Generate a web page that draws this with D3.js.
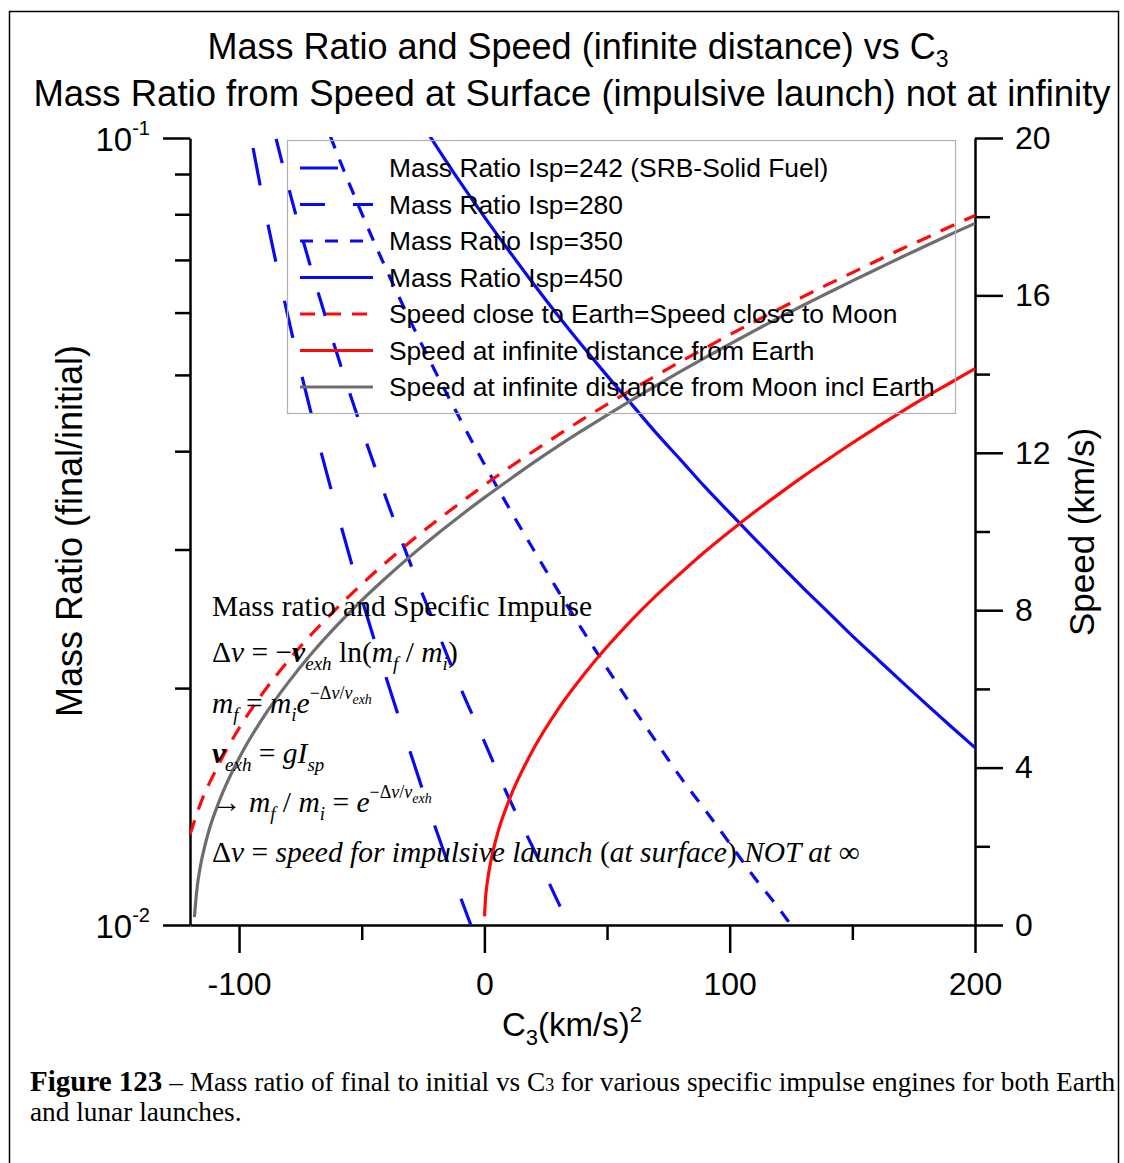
<!DOCTYPE html>
<html>
<head>
<meta charset="utf-8">
<script src="https://cdn.jsdelivr.net/npm/d3@7"></script>
<style>
  html, body { margin: 0; padding: 0; background: #fff; }
  svg { display: block; }
</style>
</head>
<body>
<svg id="chart" width="1124" height="1163"></svg>
<script>
// ---------------- DATA ----------------
const xMajorTicks = [-100, 0, 100, 200];
const xMinorTicks = [-50, 50, 150];
const speedMajorTicks = [0, 4, 8, 12, 16, 20];
const speedMinorTicks = [2, 6, 10, 14, 18];
const ratioMajorTicks = [0.01, 0.1];
const ratioMajorLabels = ["-2", "-1"];
const ratioMinorTicks = [0.02, 0.03, 0.04, 0.05, 0.06, 0.07, 0.08, 0.09];

// Mass ratio curves (left log axis)
const c3Isp242 = [-100, -90, -80, -70, -60, -50, -40, -30, -20, -10, 0];
const ratioIsp242 = [0.1216, 0.0827, 0.0592, 0.0439, 0.0335, 0.0260, 0.0206, 0.0165, 0.0133, 0.0109, 0.0090];

const c3Isp280 = [-90, -80, -70, -60, -50, -40, -30, -20, -10, 0, 10, 20, 30, 40];
const ratioIsp280 = [0.1160, 0.0869, 0.0672, 0.0531, 0.0427, 0.0348, 0.0287, 0.0240, 0.0201, 0.0171, 0.0145, 0.0125, 0.0107, 0.0093];

const c3Isp350 = [-70, -60, -50, -40, -30, -20, -10, 0, 10, 20, 30, 40, 50, 60, 70, 80, 90, 100, 110, 120, 130];
const ratioIsp350 = [0.1153, 0.0955, 0.0802, 0.0681, 0.0584, 0.0505, 0.0440, 0.0385, 0.0339, 0.0300, 0.0266, 0.0237, 0.0212, 0.0190, 0.0171, 0.0154, 0.0140, 0.0127, 0.0115, 0.0105, 0.0095];

const c3Isp450 = [-30, -20, -10, 0, 10, 20, 30, 40, 50, 60, 70, 80, 90, 100, 110, 120, 130, 140, 150, 160, 170, 180, 190, 200];
const ratioIsp450 = [0.1098, 0.0981, 0.0880, 0.0794, 0.0719, 0.0653, 0.0595, 0.0544, 0.0499, 0.0459, 0.0422, 0.0390, 0.0360, 0.0334, 0.0310, 0.0288, 0.0268, 0.0250, 0.0233, 0.0218, 0.0204, 0.0191, 0.0179, 0.0168];

// Speed curves (right linear axis, km/s)
const c3Close = [-120, -115, -110, -100, -90, -80, -70, -60, -50, -40, -30, -20, -10, 0, 10, 20, 30, 40, 50, 60, 70, 80, 90, 100, 110, 120, 130, 140, 150, 160, 170, 180, 190, 200];
const speedClose = [2.3, 3.2, 3.87, 5.00, 5.92, 6.71, 7.42, 8.06, 8.66, 9.22, 9.75, 10.25, 10.72, 11.18, 11.62, 12.04, 12.45, 12.85, 13.23, 13.60, 13.96, 14.32, 14.66, 15.00, 15.33, 15.65, 15.97, 16.28, 16.58, 16.88, 17.18, 17.46, 17.75, 18.03];

const c3InfEarth = [0.05, 0.5, 1, 2, 5, 10, 20, 30, 40, 50, 60, 70, 80, 90, 100, 110, 120, 130, 140, 150, 160, 170, 180, 190, 200];
const speedInfEarth = [0.22, 0.71, 1.00, 1.41, 2.24, 3.16, 4.47, 5.48, 6.32, 7.07, 7.75, 8.37, 8.94, 9.49, 10.00, 10.49, 10.95, 11.40, 11.83, 12.25, 12.65, 13.04, 13.42, 13.78, 14.14];

const c3InfMoon = [-118.2, -117.5, -117, -116, -113, -108, -100, -90, -80, -70, -60, -50, -40, -30, -20, -10, 0, 10, 20, 30, 40, 50, 60, 70, 80, 90, 100, 110, 120, 130, 140, 150, 160, 170, 180, 190, 200];
const speedInfMoon = [0.2, 0.71, 1.00, 1.41, 2.24, 3.16, 4.24, 5.29, 6.16, 6.93, 7.62, 8.25, 8.83, 9.38, 9.90, 10.39, 10.86, 11.31, 11.75, 12.17, 12.57, 12.96, 13.34, 13.71, 14.07, 14.42, 14.76, 15.10, 15.43, 15.75, 16.06, 16.37, 16.67, 16.97, 17.26, 17.55, 17.83];

const legendLabels = [
  "Mass Ratio Isp=242 (SRB-Solid Fuel)",
  "Mass Ratio Isp=280",
  "Mass Ratio Isp=350",
  "Mass Ratio Isp=450",
  "Speed close to Earth=Speed close to Moon",
  "Speed at infinite distance from Earth",
  "Speed at infinite distance from Moon incl Earth"
];

// ---------------- LAYOUT ----------------
const svg = d3.select("#chart");
const SANS = "'Liberation Sans', Arial, Helvetica, sans-serif";
const SERIF = "'Liberation Serif', 'Times New Roman', serif";
const L = 190, R = 975, T = 138, B = 925;
const BLUE = "#0a0af0", RED = "#ff0a0a", GRAY = "#6e6e6e";

const x = d3.scaleLinear().domain([-120, 200]).range([L, R]);
const ySpeed = d3.scaleLinear().domain([0, 20]).range([B, T]);
const yRatio = d3.scaleLog().domain([0.01, 0.1]).range([B, T]);

// outer frame
svg.append("rect").attr("x", 9.5).attr("y", 11.5).attr("width", 1109).attr("height", 1200)
  .attr("fill", "none").attr("stroke", "#000").attr("stroke-width", 1.5);

// helper for rich text with sub/superscripts
function richText(g, xPos, yPos, runs, opts) {
  const t = g.append("text").attr("x", xPos).attr("y", yPos)
    .attr("font-family", opts.family).attr("font-size", opts.size)
    .attr("text-anchor", opts.anchor || "start").attr("fill", "#000");
  let prev = 0;
  runs.forEach(r => {
    const shift = r.shift || 0;
    const ts = t.append("tspan").text(r.t).attr("dy", shift - prev);
    if (r.size) ts.attr("font-size", r.size);
    if (r.italic) ts.attr("font-style", "italic");
    if (r.bold) ts.attr("font-weight", "bold");
    prev = shift;
  });
  return t;
}

// ---------------- TITLE ----------------
richText(svg, 578, 59, [
  { t: "Mass Ratio and Speed (infinite distance) vs C" },
  { t: "3", shift: 8, size: 23 }
], { family: SANS, size: 36, anchor: "middle" });
richText(svg, 572, 106, [
  { t: "Mass Ratio from Speed at Surface (impulsive launch) not at infinity" }
], { family: SANS, size: 36.5, anchor: "middle" });

// ---------------- AXES ----------------
function styleAxis(g) {
  g.selectAll("path, line").attr("stroke", "#000").attr("stroke-width", 2.5);
  g.selectAll("text").attr("font-family", SANS).attr("fill", "#000");
}

// bottom
const gxMaj = svg.append("g").attr("transform", `translate(0,${B})`)
  .call(d3.axisBottom(x).tickValues(xMajorTicks).tickSize(28).tickSizeOuter(0).tickPadding(19)
    .tickFormat(d => String(d)));
gxMaj.selectAll("text").attr("font-size", 32);
styleAxis(gxMaj);
const gxMin = svg.append("g").attr("transform", `translate(0,${B})`)
  .call(d3.axisBottom(x).tickValues(xMinorTicks).tickSize(15).tickSizeOuter(0).tickFormat(""));
gxMin.select(".domain").remove();
styleAxis(gxMin);

// left (log)
const gyL = svg.append("g").attr("transform", `translate(${L},0)`)
  .call(d3.axisLeft(yRatio).tickValues(ratioMajorTicks).tickSize(27).tickSizeOuter(0).tickFormat(""));
styleAxis(gyL);
const gyLm = svg.append("g").attr("transform", `translate(${L},0)`)
  .call(d3.axisLeft(yRatio).tickValues(ratioMinorTicks).tickSize(15).tickSizeOuter(0).tickFormat(""));
gyLm.select(".domain").remove();
styleAxis(gyLm);
ratioMajorTicks.forEach((v, i) => {
  richText(svg, 150, yRatio(v) + 13, [
    { t: "10" }, { t: ratioMajorLabels[i], shift: -16, size: 20 }
  ], { family: SANS, size: 33, anchor: "end" });
});

// right (speed)
const gyR = svg.append("g").attr("transform", `translate(${R},0)`)
  .call(d3.axisRight(ySpeed).tickValues(speedMajorTicks).tickSize(28).tickSizeOuter(0).tickPadding(12));
gyR.selectAll("text").attr("font-size", 32);
styleAxis(gyR);
const gyRm = svg.append("g").attr("transform", `translate(${R},0)`)
  .call(d3.axisRight(ySpeed).tickValues(speedMinorTicks).tickSize(15).tickSizeOuter(0).tickFormat(""));
gyRm.select(".domain").remove();
styleAxis(gyRm);

// axis titles
svg.append("text").attr("transform", "translate(82,531) rotate(-90)")
  .attr("text-anchor", "middle").attr("font-family", SANS).attr("font-size", 36)
  .text("Mass Ratio (final/initial)");
svg.append("text").attr("transform", "translate(1094,532) rotate(-90)")
  .attr("text-anchor", "middle").attr("font-family", SANS).attr("font-size", 35)
  .text("Speed (km/s)");
richText(svg, 572, 1036, [
  { t: "C" }, { t: "3", shift: 9, size: 22 }, { t: "(km/s)" }, { t: "2", shift: -14, size: 22 }
], { family: SANS, size: 33, anchor: "middle" });

// ---------------- DATA LINES ----------------
svg.append("clipPath").attr("id", "plotclip").append("rect")
  .attr("x", L).attr("y", T - 1).attr("width", R - L + 1).attr("height", B - T + 1);
const plot = svg.append("g").attr("clip-path", "url(#plotclip)");

const ratioLine = d3.line().x(d => x(d[0])).y(d => yRatio(d[1])).curve(d3.curveMonotoneX);
const speedLine = d3.line().x(d => x(d[0])).y(d => ySpeed(d[1])).curve(d3.curveMonotoneX);
const zip = (a, b) => a.map((v, i) => [v, b[i]]);

const series = [
  { data: zip(c3Isp242, ratioIsp242), gen: ratioLine, color: BLUE, dash: "38,40" },
  { data: zip(c3Isp280, ratioIsp280), gen: ratioLine, color: BLUE, dash: "25,28" },
  { data: zip(c3Isp350, ratioIsp350), gen: ratioLine, color: BLUE, dash: "13,12" },
  { data: zip(c3Isp450, ratioIsp450), gen: ratioLine, color: BLUE, dash: null },
  { data: zip(c3Close, speedClose), gen: speedLine, color: RED, dash: "15,11" },
  { data: zip(c3InfEarth, speedInfEarth), gen: speedLine, color: RED, dash: null },
  { data: zip(c3InfMoon, speedInfMoon), gen: speedLine, color: GRAY, dash: null }
];
series.forEach(s => {
  plot.append("path").attr("d", s.gen(s.data)).attr("fill", "none")
    .attr("stroke", s.color).attr("stroke-width", 3.2)
    .attr("stroke-dasharray", s.dash);
});

// ---------------- LEGEND ----------------
const lg = svg.append("g");
lg.append("rect").attr("x", 287.5).attr("y", 140.5).attr("width", 668).attr("height", 273)
  .attr("fill", "none").attr("stroke", "#b0b0b0").attr("stroke-width", 1.2);
legendLabels.forEach((lab, i) => {
  const yy = 168 + i * 36.5;
  lg.append("line").attr("x1", 300).attr("x2", 373).attr("y1", yy).attr("y2", yy)
    .attr("stroke", series[i].color).attr("stroke-width", 3.2)
    .attr("stroke-dasharray", series[i].dash);
  lg.append("text").attr("x", 389).attr("y", yy + 9).attr("font-family", SANS)
    .attr("font-size", 26.4).text(lab);
});

// ---------------- FORMULA ANNOTATION ----------------
const fa = svg.append("g");
const FS = 29.5;
const SUB = 19;
richText(fa, 212, 616, [{ t: "Mass ratio and Specific Impulse" }], { family: SERIF, size: FS });
richText(fa, 212, 662, [
  { t: "Δ" }, { t: "v", italic: true }, { t: " = −" }, { t: "v", italic: true, bold: true },
  { t: "exh", italic: true, shift: 8, size: SUB }, { t: " ln(" }, { t: "m", italic: true },
  { t: "f", italic: true, shift: 8, size: SUB }, { t: " / " }, { t: "m", italic: true },
  { t: "i", italic: true, shift: 8, size: SUB }, { t: ")" }
], { family: SERIF, size: FS });
richText(fa, 212, 713, [
  { t: "m", italic: true }, { t: "f", italic: true, shift: 8, size: SUB }, { t: " = " },
  { t: "m", italic: true }, { t: "i", italic: true, shift: 8, size: SUB }, { t: "e", italic: true },
  { t: "−Δ", shift: -14, size: 18 }, { t: "v", italic: true, shift: -14, size: 18 },
  { t: "/", shift: -14, size: 18 }, { t: "v", italic: true, shift: -14, size: 18 },
  { t: "exh", italic: true, shift: -9, size: 14 }
], { family: SERIF, size: FS });
richText(fa, 212, 763, [
  { t: "v", italic: true, bold: true }, { t: "exh", italic: true, shift: 8, size: SUB }, { t: " = " },
  { t: "gI", italic: true }, { t: "sp", italic: true, shift: 8, size: SUB }
], { family: SERIF, size: FS });
richText(fa, 212, 812, [
  { t: "→ " }, { t: "m", italic: true }, { t: "f", italic: true, shift: 8, size: SUB }, { t: " / " },
  { t: "m", italic: true }, { t: "i", italic: true, shift: 8, size: SUB }, { t: " = " },
  { t: "e", italic: true },
  { t: "−Δ", shift: -14, size: 18 }, { t: "v", italic: true, shift: -14, size: 18 },
  { t: "/", shift: -14, size: 18 }, { t: "v", italic: true, shift: -14, size: 18 },
  { t: "exh", italic: true, shift: -9, size: 14 }
], { family: SERIF, size: FS });
richText(fa, 212, 862, [
  { t: "Δ" }, { t: "v", italic: true }, { t: " = " },
  { t: "speed  for impulsive launch ", italic: true }, { t: "(" }, { t: "at surface", italic: true },
  { t: ") " }, { t: "NOT at ", italic: true }, { t: "∞" }
], { family: SERIF, size: FS });

// ---------------- CAPTION ----------------
richText(svg, 30, 1091, [
  { t: "Figure 123", bold: true, size: 29 }, { t: " – Mass ratio of final to initial vs C" },
  { t: "3", size: 18 },
  { t: " for various specific impulse engines for both Earth" }
], { family: SERIF, size: 27.3 });
richText(svg, 30, 1121, [{ t: "and lunar launches." }], { family: SERIF, size: 27.3 });
</script>
</body>
</html>
